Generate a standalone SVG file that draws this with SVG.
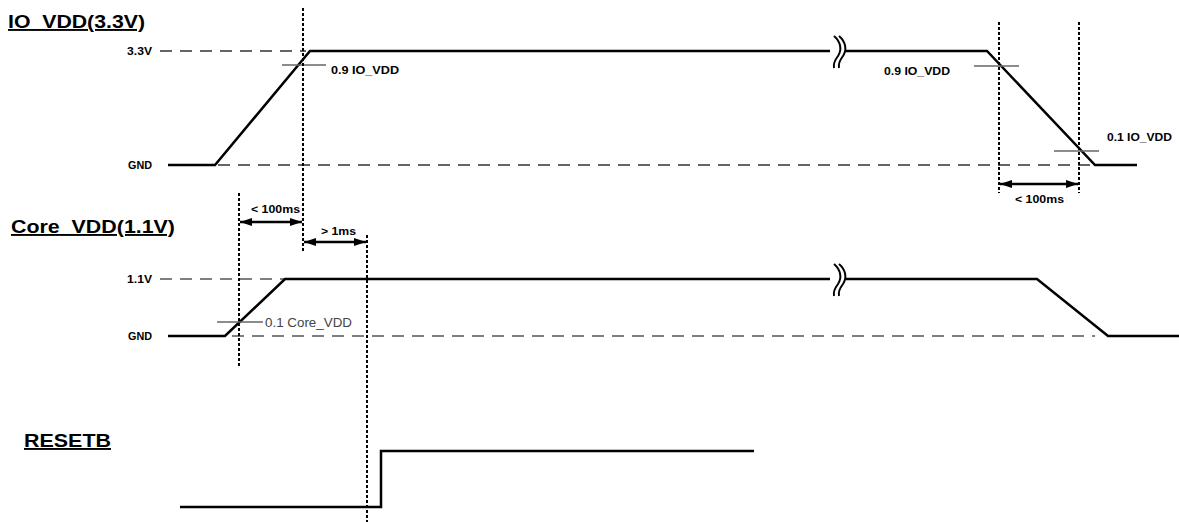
<svg xmlns="http://www.w3.org/2000/svg" width="1179" height="522" viewBox="0 0 1179 522">
<defs>
<marker id="ah" viewBox="0 0 12 8" refX="12" refY="4" markerWidth="12" markerHeight="8" markerUnits="userSpaceOnUse" orient="auto-start-reverse">
<path d="M0,0 L12,4 L0,8 Z" fill="#000"/>
</marker>
</defs>
<style>
.sig{fill:none;stroke:#000;stroke-width:2.5;stroke-linejoin:miter}
.dash{fill:none;stroke:#333;stroke-width:1.3;stroke-dasharray:12 8}
.dash2{fill:none;stroke:#555;stroke-width:1.3;stroke-dasharray:12 8}
.dot{fill:none;stroke:#000;stroke-width:2;stroke-dasharray:3 2}
.mark{fill:none;stroke:#666;stroke-width:1.3}
.arr{fill:none;stroke:#000;stroke-width:2.5;marker-start:url(#ah);marker-end:url(#ah)}
.lbl{font-family:"Liberation Sans",Arial,sans-serif;font-weight:bold;font-size:11px;fill:#000}
.ttl{font-family:"Liberation Sans",Arial,sans-serif;font-weight:bold;font-size:19px;fill:#000;text-decoration:underline}
.reg{font-family:"Liberation Sans",Arial,sans-serif;font-size:12.5px;fill:#444}
.brk{fill:none;stroke:#000;stroke-width:2}
</style>

<g id="io_vdd">
<text class="ttl" x="8" y="28" textLength="137" lengthAdjust="spacingAndGlyphs">IO_VDD(3.3V)</text>
<text class="lbl" x="127" y="55" textLength="25" lengthAdjust="spacingAndGlyphs">3.3V</text>
<text class="lbl" x="128" y="169" textLength="24" lengthAdjust="spacingAndGlyphs">GND</text>
<line class="dash" x1="160" y1="51" x2="306" y2="51"/>
<line class="dash" x1="218" y1="165" x2="1095" y2="165"/>
<polyline class="sig" points="168,165 215,165 310,51 830,51"/>
<polyline class="sig" points="845,51 987,51 1095,165 1137,165"/>
<rect x="834" y="44" width="9" height="14" fill="#fff"/>
<path class="brk" d="M834,36 C841,42 842,50 838,56 C835,60 833,64 834,68"/>
<path class="brk" d="M839,36 C846,42 847,50 843,56 C840,60 838,64 839,68"/>
<line class="mark" x1="282" y1="65" x2="326" y2="65"/>
<text class="lbl" x="331" y="74" textLength="68" lengthAdjust="spacingAndGlyphs">0.9 IO_VDD</text>
<line class="mark" x1="974" y1="66" x2="1019" y2="66"/>
<text class="lbl" x="884" y="75" textLength="66" lengthAdjust="spacingAndGlyphs">0.9 IO_VDD</text>
<line class="mark" x1="1054" y1="151" x2="1099" y2="151"/>
<text class="lbl" x="1107" y="141" textLength="65" lengthAdjust="spacingAndGlyphs">0.1 IO_VDD</text>
</g>

<g id="core_vdd">
<text class="ttl" x="11" y="233" textLength="164" lengthAdjust="spacingAndGlyphs">Core_VDD(1.1V)</text>
<text class="lbl" x="127" y="283" textLength="25" lengthAdjust="spacingAndGlyphs">1.1V</text>
<text class="lbl" x="128" y="340" textLength="24" lengthAdjust="spacingAndGlyphs">GND</text>
<line class="dash2" x1="160" y1="279" x2="285" y2="279"/>
<line class="dash2" x1="232" y1="336" x2="1095" y2="336"/>
<polyline class="sig" points="168,336 225,336 285,279 830,279"/>
<polyline class="sig" points="845,279 1037,279 1108,336 1179,336"/>
<rect x="834" y="272" width="9" height="14" fill="#fff"/>
<path class="brk" d="M834,264 C841,270 842,278 838,284 C835,288 833,292 834,296"/>
<path class="brk" d="M839,264 C846,270 847,278 843,284 C840,288 838,292 839,296"/>
<line class="mark" x1="217" y1="322" x2="263" y2="322"/>
<text class="reg" x="265" y="327" textLength="87" lengthAdjust="spacingAndGlyphs">0.1 Core_VDD</text>
</g>

<g id="resetb">
<text class="ttl" x="24" y="447" textLength="87" lengthAdjust="spacingAndGlyphs">RESETB</text>
<polyline class="sig" points="180,507 381,507 381,451 754,451"/>
</g>

<g id="connectors">
<line class="dot" x1="303" y1="8" x2="303" y2="252"/>
<line class="dot" x1="239" y1="193" x2="239" y2="366"/>
<line class="dot" x1="367" y1="235" x2="367" y2="522"/>
<line class="dot" x1="999" y1="22" x2="999" y2="193"/>
<line class="dot" x1="1079" y1="22" x2="1079" y2="193"/>
<line class="arr" x1="240" y1="222" x2="302" y2="222"/>
<line class="arr" x1="304" y1="242" x2="366" y2="242"/>
<line class="arr" x1="1000" y1="184" x2="1078" y2="184"/>
<text class="lbl" x="251" y="213" textLength="49" lengthAdjust="spacingAndGlyphs">&lt; 100ms</text>
<text class="lbl" x="321" y="235" textLength="35" lengthAdjust="spacingAndGlyphs">&gt; 1ms</text>
<text class="lbl" x="1015" y="203" textLength="49" lengthAdjust="spacingAndGlyphs">&lt; 100ms</text>
</g>
</svg>
